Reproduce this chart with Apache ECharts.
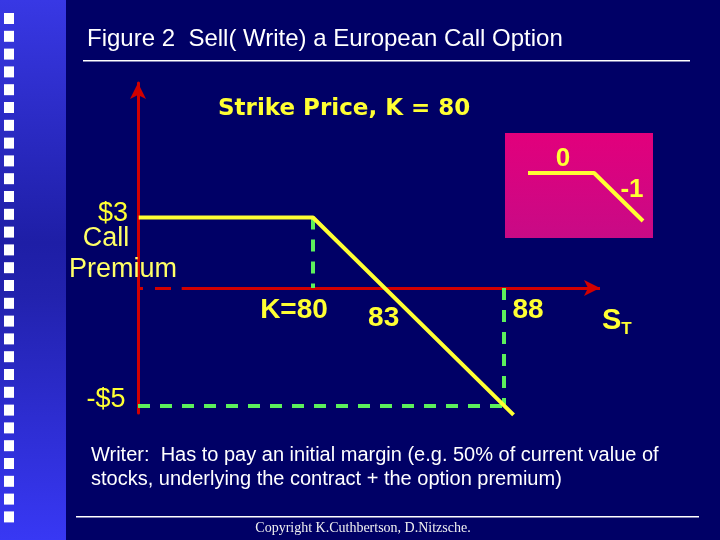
<!DOCTYPE html>
<html><head><meta charset="utf-8">
<script src="https://cdn.jsdelivr.net/npm/echarts@6/dist/echarts.min.js"></script>
<style>html,body{margin:0;padding:0;background:#000066}#c{width:720px;height:540px}</style>
</head><body><div id="c"></div>
<script>
// ---- data ----
const strikePrice = 80;
const callPremium = 3;
const payoffX = [72.7, 80, 88.4];
const payoffY = [3, 3, -5.4];
const tickValues = [80, 83, 88];
const tickLabels = ['K=80', '83', '88'];
const maxLossX = 88;
const maxLossY = -5;
const insetX = [0, 1, 1.74];
const insetY = [0, 0, -0.74];
const slopeLabels = ['0', '-1'];

const X_MIN = 72.67, X_MAX = 92.02, Y_MIN = -5.32, Y_MAX = 8.723;
const RED = '#d20000', YEL = '#ffff33', GRN = '#5cf05c';

const chart = echarts.init(document.getElementById('c'), null, {renderer: 'canvas'});

const squares = [];
for (let i = 0; i < 29; i++) {
  squares.push({type: 'rect', shape: {x: 4, y: 13 + i * 17.8, width: 10, height: 11}, style: {fill: '#ffffff'}, z: 1});
}

const tickOffsets = [[-19, 22], [-1, 30], [24, 22]];

const option = {
  backgroundColor: '#000066',
  animation: false,
  grid: [
    {left: 138, right: 120, top: 83, bottom: 127},
    {left: 528, right: 77, top: 173, bottom: 319}
  ],
  xAxis: [
    {type: 'value', gridIndex: 0, min: X_MIN, max: X_MAX, axisLine: {show: false}, axisTick: {show: false}, axisLabel: {show: false}, splitLine: {show: false}},
    {type: 'value', gridIndex: 1, min: 0, max: 1.74, show: false, splitLine: {show: false}}
  ],
  yAxis: [
    {type: 'value', gridIndex: 0, min: Y_MIN, max: Y_MAX,
     axisLine: {show: true, onZero: false, symbol: ['none', 'arrow'], symbolSize: [12, 16], lineStyle: {color: RED, width: 3}},
     axisTick: {show: false}, axisLabel: {show: false}, splitLine: {show: false}},
    {type: 'value', gridIndex: 1, min: -0.74, max: 0, show: false, splitLine: {show: false}}
  ],
  graphic: [
    {type: 'rect', shape: {x: 0, y: 0, width: 66, height: 540}, z: 0,
     style: {fill: new echarts.graphic.LinearGradient(0, 0, 0, 1, [
       {offset: 0, color: '#3838e4'}, {offset: 0.45, color: '#1e1ea6'}, {offset: 0.55, color: '#2222ae'}, {offset: 1, color: '#3838f4'}])}},
    ...squares,
    {type: 'text', left: 87, top: 27, z: 5, style: {text: 'Figure 2  Sell( Write) a European Call Option', fill: '#ffffff', font: '24px "Liberation Sans", Arial, sans-serif'}},
    {type: 'rect', shape: {x: 83, y: 60, width: 607, height: 1.5}, style: {fill: '#ffffff'}},
    {type: 'text', left: 218, top: 98, z: 5, style: {text: 'Strike Price, K = ' + strikePrice, fill: YEL, font: 'bold 23px "DejaVu Sans", sans-serif'}},
    {type: 'rect', shape: {x: 505, y: 133, width: 148, height: 105}, z: 1,
     style: {fill: new echarts.graphic.LinearGradient(0, 0, 0, 1, [{offset: 0, color: '#e2007c'}, {offset: 1, color: '#c80a86'}])}},
    {type: 'text', x: 563, y: 159, z: 5, style: {text: slopeLabels[0], fill: YEL, align: 'center', verticalAlign: 'middle', font: 'bold 26px "Liberation Sans", Arial, sans-serif'}},
    {type: 'text', x: 632, y: 190, z: 5, style: {text: slopeLabels[1], fill: YEL, align: 'center', verticalAlign: 'middle', font: 'bold 26px "Liberation Sans", Arial, sans-serif'}},
    {type: 'text', x: 113, y: 214, z: 5, style: {text: '$' + callPremium, fill: YEL, align: 'center', verticalAlign: 'middle', font: '27px "Liberation Sans", Arial, sans-serif'}},
    {type: 'text', x: 106, y: 239, z: 5, style: {text: 'Call', fill: '#ffff66', align: 'center', verticalAlign: 'middle', font: '27px "Liberation Sans", Arial, sans-serif'}},
    {type: 'text', x: 123, y: 270, z: 5, style: {text: 'Premium', fill: '#ffff66', align: 'center', verticalAlign: 'middle', font: '27px "Liberation Sans", Arial, sans-serif'}},
    {type: 'text', x: 106, y: 400, z: 5, style: {text: '-$' + Math.abs(maxLossY), fill: YEL, align: 'center', verticalAlign: 'middle', font: '27px "Liberation Sans", Arial, sans-serif'}},
    {type: 'text', x: 602, y: 321, z: 5, style: {text: '{s|S}{t|T}', fill: YEL, verticalAlign: 'middle',
      rich: {s: {font: 'bold 29px "Liberation Sans", Arial, sans-serif', fill: YEL}, t: {font: 'bold 17px "Liberation Sans", Arial, sans-serif', fill: YEL, padding: [16, 0, 0, 0]}}}},
    {type: 'text', left: 91, top: 443, z: 5, style: {text: 'Writer:  Has to pay an initial margin (e.g. 50% of current value of\nstocks, underlying the contract + the option premium)', fill: '#ffffff', lineHeight: 24, font: '20px "Liberation Sans", Arial, sans-serif'}},
    {type: 'rect', shape: {x: 76, y: 516, width: 623, height: 1.5}, style: {fill: '#ffffff'}},
    {type: 'text', x: 363, y: 528, z: 5, style: {text: 'Copyright K.Cuthbertson, D.Nitzsche.', fill: '#f0f0f0', align: 'center', verticalAlign: 'middle', font: '14px "Liberation Serif", "Times New Roman", serif'}}
  ],
  series: [
    {
      type: 'line', xAxisIndex: 0, yAxisIndex: 0, clip: false, symbol: 'none', z: 4,
      data: payoffX.map((x, i) => [x, payoffY[i]]),
      lineStyle: {color: YEL, width: 4},
      markLine: {
        silent: true, symbol: 'none', label: {show: false}, z: 3,
        data: [
          [{coord: [X_MIN, 0], lineStyle: {color: RED, width: 3, type: [16, 12], dashOffset: 11}}, {coord: [74.5, 0]}],
          [{coord: [74.5, 0], lineStyle: {color: RED, width: 3, type: 'solid'}}, {coord: [X_MAX, 0], symbol: 'arrow', symbolSize: [12, 16]}],
          [{coord: [strikePrice, callPremium], lineStyle: {color: GRN, width: 4, type: [12, 10]}}, {coord: [strikePrice, 0]}],
          [{coord: [maxLossX, 0], lineStyle: {color: GRN, width: 4, type: [12, 10]}}, {coord: [maxLossX, maxLossY]}],
          [{coord: [X_MIN, maxLossY], lineStyle: {color: GRN, width: 4, type: [12, 10]}}, {coord: [maxLossX, maxLossY]}]
        ]
      }
    },
    {
      type: 'scatter', xAxisIndex: 0, yAxisIndex: 0, symbolSize: 0, silent: true, z: 6,
      itemStyle: {opacity: 1},
      data: tickValues.map((v, i) => ({value: [v, 0], label: {show: true, position: 'inside', offset: tickOffsets[i], formatter: tickLabels[i],
        color: YEL, opacity: 1, fontFamily: 'Liberation Sans', fontWeight: 'bold', fontSize: 28}}))
    },
    {
      type: 'line', xAxisIndex: 1, yAxisIndex: 1, clip: false, symbol: 'none', z: 4,
      data: insetX.map((x, i) => [x, insetY[i]]),
      lineStyle: {color: YEL, width: 4}
    }
  ]
};
chart.setOption(option);
</script>
</body></html>
